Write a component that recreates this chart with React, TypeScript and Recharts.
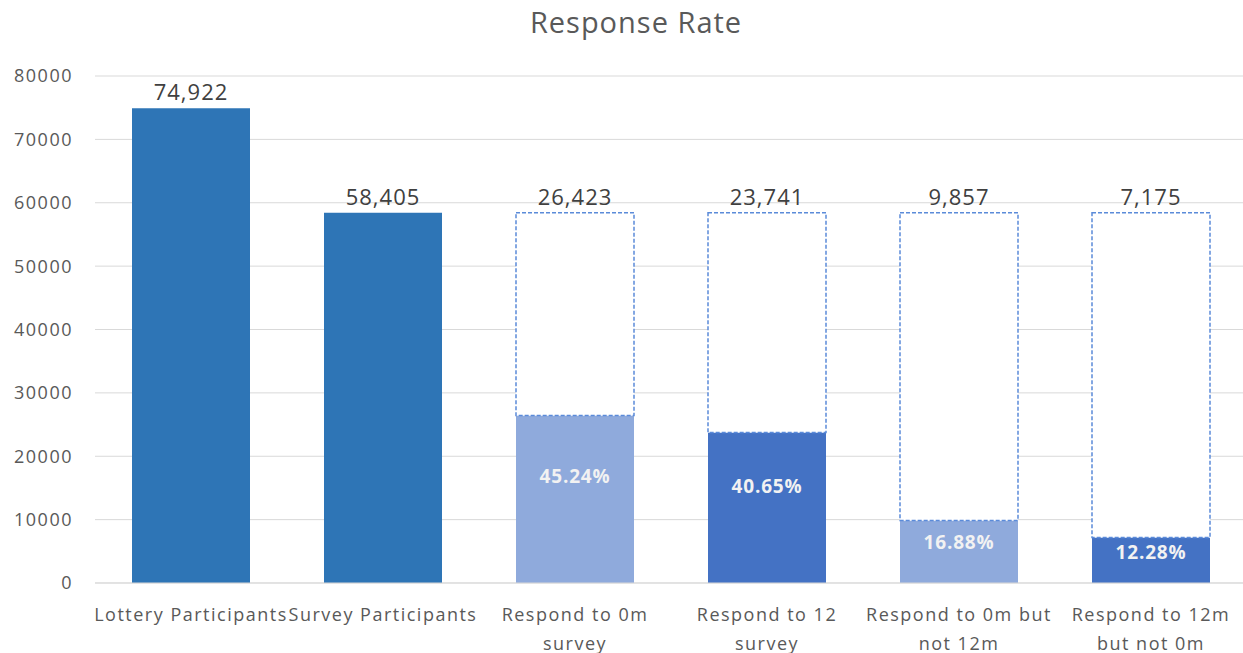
import { Bar, BarChart, CartesianGrid, Cell, LabelList, XAxis, YAxis } from "recharts";

const categories = [
  "Lottery Participants",
  "Survey Participants",
  "Respond to 0m survey",
  "Respond to 12 survey",
  "Respond to 0m but not 12m",
  "Respond to 12m but not 0m",
];
const counts = [74922, 58405, 26423, 23741, 9857, 7175];
const rates = ["", "", "45.24%", "40.65%", "16.88%", "12.28%"];
const barColors = ["#2E75B6", "#2E75B6", "#8FAADC", "#4472C4", "#8FAADC", "#4472C4"];
const surveyTotal = 58405;
const yTicks = [0, 10000, 20000, 30000, 40000, 50000, 60000, 70000, 80000];

const data = categories.map((name, i) => ({
  name,
  value: counts[i],
  rest: i >= 2 ? surveyTotal - counts[i] : 0,
  topLabel: i < 2 ? counts[i].toLocaleString("en-US") : "",
  label: counts[i].toLocaleString("en-US"),
  rate: rates[i],
}));

const font = "'Open Sans', 'Noto Sans', sans-serif";

// word-wrap a tick label to the category width, the way Excel does
let ctx: CanvasRenderingContext2D | null = null;
function wrap(text: string, maxWidth: number, size: number, spacing: number) {
  if (!ctx) ctx = document.createElement("canvas").getContext("2d");
  const measure = (s: string) => {
    if (!ctx) return s.length * size * 0.55;
    ctx.font = `${size}px 'Open Sans'`;
    return ctx.measureText(s).width + s.length * spacing;
  };
  const lines: string[] = [];
  let cur = "";
  for (const w of text.split(" ")) {
    const next = cur ? cur + " " + w : w;
    if (cur && measure(next) > maxWidth) {
      lines.push(cur);
      cur = w;
    } else {
      cur = next;
    }
  }
  if (cur) lines.push(cur);
  return lines;
}

function CategoryTick(props: any) {
  const { x, y, payload } = props;
  const lines = wrap(payload.value, 195, 18, 1.5);
  return (
    <text
      x={x}
      y={y}
      textAnchor="middle"
      fill="#595959"
      fontSize={18}
      letterSpacing={1.5}
      fontFamily={font}
    >
      {lines.map((l, i) => (
        <tspan key={i} x={x} dy={i === 0 ? 30 : 29}>
          {l}
        </tspan>
      ))}
    </text>
  );
}

function RateLabel(props: any) {
  const { x, y, width, height, value } = props;
  if (!value) return null;
  return (
    <text
      x={x + width / 2}
      y={y + height * 0.37}
      textAnchor="middle"
      dominantBaseline="middle"
      fill="#F2F2F2"
      fontSize={19}
      fontWeight="bold"
      letterSpacing={0.8}
      fontFamily={font}
    >
      {value}
    </text>
  );
}

function TopLabel(props: any) {
  const { x, y, width, value } = props;
  if (!value) return null;
  return (
    <text
      x={x + width / 2}
      y={y - 8}
      textAnchor="middle"
      fill="#404040"
      fontSize={22}
      letterSpacing={1}
      fontFamily={font}
    >
      {value}
    </text>
  );
}

export default function App() {
  return (
    <div
      style={{
        position: "absolute",
        left: 0,
        top: 0,
        width: 1243,
        height: 653,
        overflow: "hidden",
        background: "#fff",
        fontFamily: font,
      }}
    >
      <div
        style={{
          position: "absolute",
          top: 2,
          left: 0,
          width: 1272,
          textAlign: "center",
          fontSize: 29,
          letterSpacing: 1,
          color: "#595959",
        }}
      >
        Response Rate
      </div>
      <BarChart
        width={1250}
        height={653}
        data={data}
        margin={{ top: 76, right: 3, bottom: 10, left: 0 }}
        barSize={118}
      >
        <CartesianGrid vertical={false} stroke="#D9D9D9" />
        <XAxis
          dataKey="name"
          axisLine={{ stroke: "#D9D9D9" }}
          tickLine={false}
          height={60}
          interval={0}
          tick={<CategoryTick />}
        />
        <YAxis
          width={95}
          domain={[0, 80000]}
          ticks={yTicks}
          axisLine={false}
          tickLine={false}
          tickMargin={16}
          tick={{ fill: "#595959", fontSize: 18, letterSpacing: 1.5, fontFamily: font }}
        />
        <Bar dataKey="value" stackId="a" isAnimationActive={false}>
          {data.map((d, i) => (
            <Cell key={d.name} fill={barColors[i]} />
          ))}
          <LabelList dataKey="rate" content={<RateLabel />} />
          <LabelList dataKey="topLabel" content={<TopLabel />} />
        </Bar>
        <Bar
          dataKey="rest"
          stackId="a"
          fill="#FFFFFF"
          stroke="#5B8BD9"
          strokeWidth={1.5}
          strokeDasharray="4 2"
          isAnimationActive={false}
        >
          <LabelList dataKey="label" content={<TopLabel />} />
        </Bar>
      </BarChart>
    </div>
  );
}
